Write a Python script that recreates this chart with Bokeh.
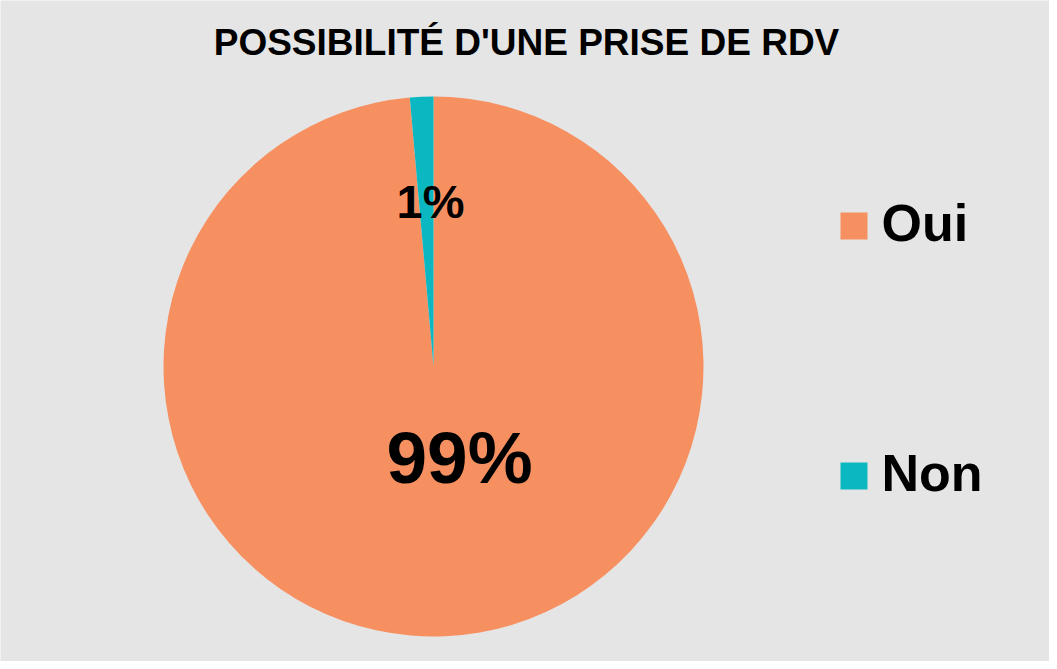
import math
from bokeh.plotting import figure
from bokeh.models import Range1d
from bokeh.core.properties import value
from bokeh.embed import file_html
from bokeh.resources import INLINE

# ---- data ----
title_text = "POSSIBILITÉ D'UNE PRISE DE RDV"
categories = ["Oui", "Non"]
shares = [98.6, 1.4]
pct_labels = ["99%", "1%"]
colors = ["#F79060", "#0BB8C2"]

W, H = 1049, 661
FONT = "Liberation Sans"

def px(x):
    return x - 8

def py(y):
    return H - (y - 8)

p = figure(width=W, height=H, output_backend="svg", toolbar_location=None,
           x_range=Range1d(0, W), y_range=Range1d(0, H), min_border=0,
           background_fill_color="#E5E5E5", border_fill_color="#E5E5E5",
           outline_line_color=None)
p.axis.visible = False
p.grid.visible = False

# pie
cx, cy, R = px(441), py(374), 270
total = sum(shares)
start = math.pi / 2
starts, ends = [], []
for s in shares:
    end = start - 2 * math.pi * s / total
    starts.append(start)
    ends.append(end)
    start = end
p.wedge(x=[cx] * len(shares), y=[cy] * len(shares), radius=R, radius_units="screen",
        start_angle=starts, end_angle=ends, direction="clock",
        fill_color=colors, line_color=None)

# data labels
label_pos = [(467, 465, "73px"), (438, 209, "47px")]
for (lx, ly, fs), t in zip(label_pos, pct_labels):
    p.text(x=[px(lx)], y=[py(ly)], text=[t], text_font=value(FONT), text_font_style="bold",
           text_font_size=fs, text_align="center", text_baseline="middle", text_color="black")

# title
p.text(x=[px(534)], y=[py(50)], text=[title_text], text_font=value(FONT), text_font_style="bold",
       text_font_size="37px", text_align="center", text_baseline="middle", text_color="black")

# legend
leg_y = [233.5, 483.5]
for c, name, ly in zip(colors, categories, leg_y):
    p.rect(x=[px(861.5)], y=[py(ly)], width=27, height=27, width_units="screen",
           height_units="screen", fill_color=c, line_color=None)
    p.text(x=[px(889)], y=[py(ly - 3)], text=[name], text_font=value(FONT), text_font_style="bold",
           text_font_size="52px", text_align="left", text_baseline="middle", text_color="black")

open("out.html", "w").write(file_html(p, INLINE))
